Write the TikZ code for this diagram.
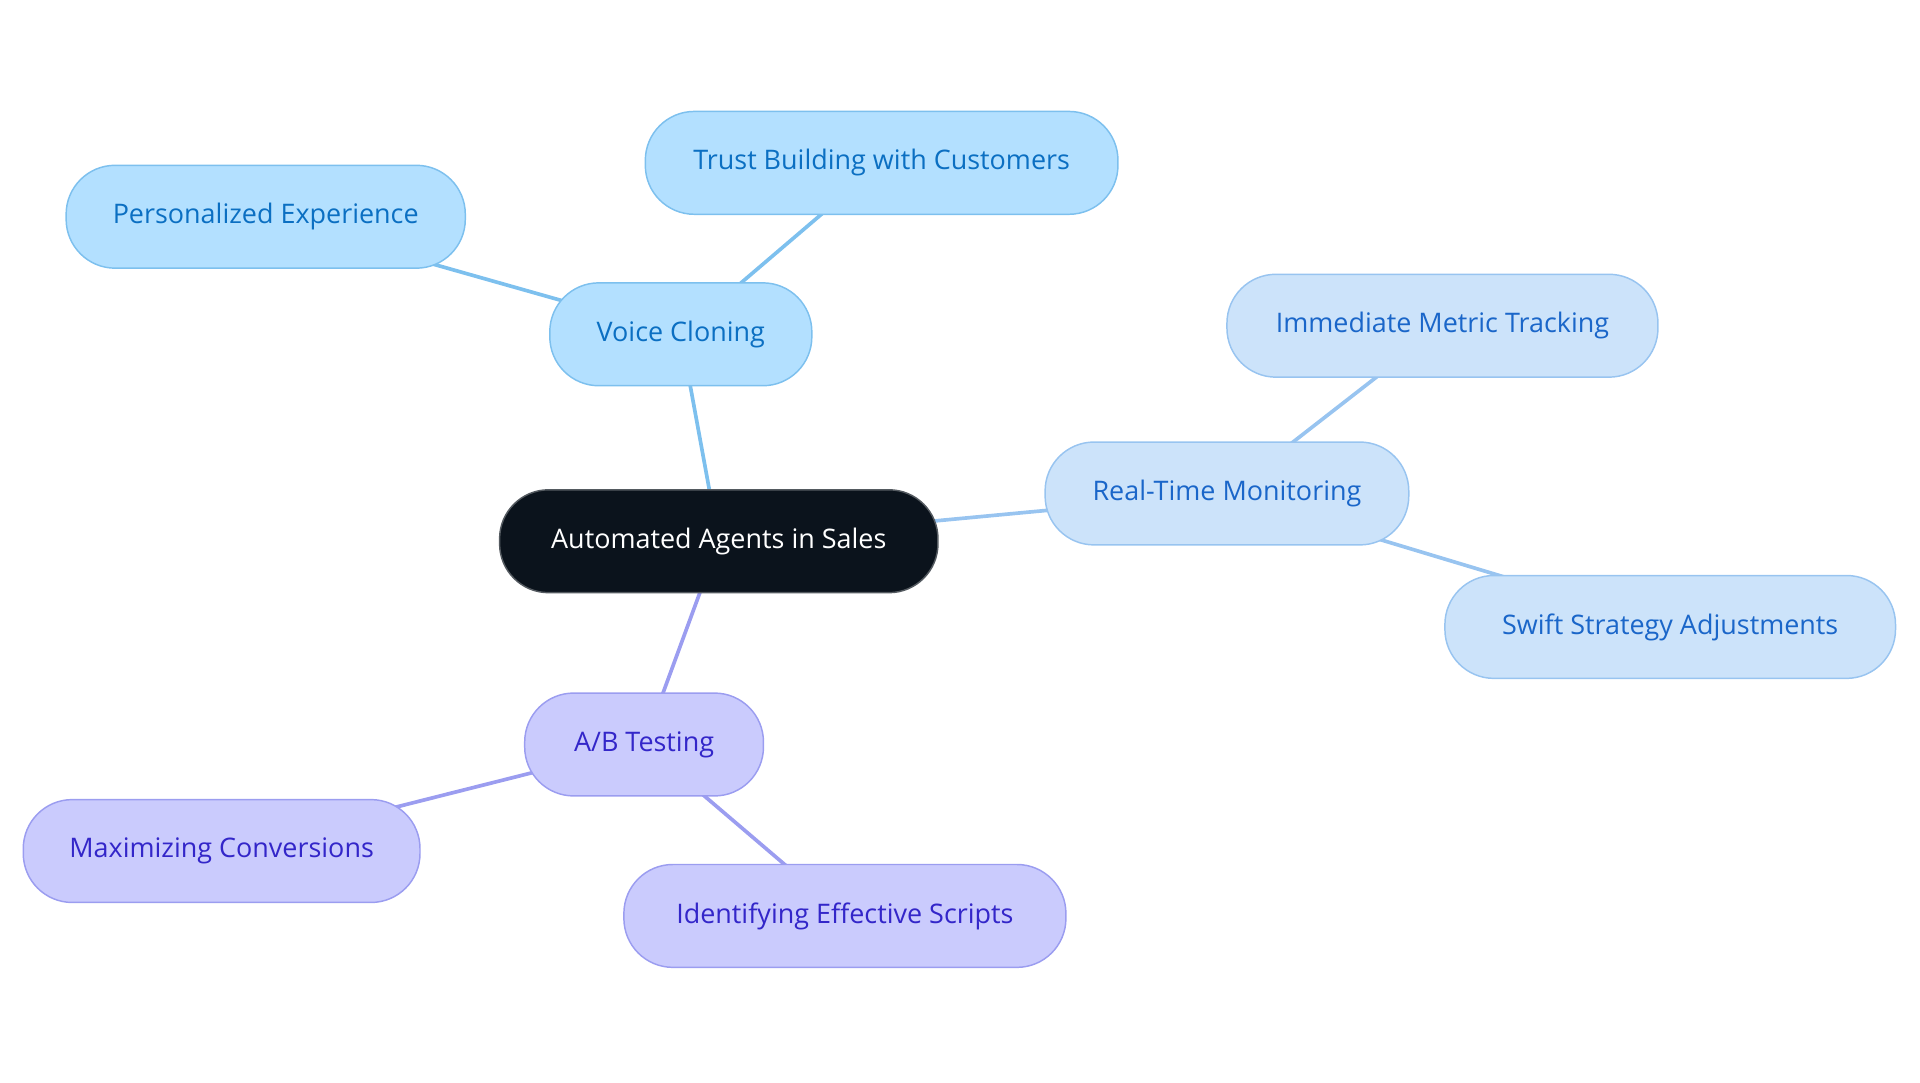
\documentclass[tikz,border=0pt]{standalone}
\usepackage{fontspec}
\setmainfont{Open Sans}
\usetikzlibrary{backgrounds}
\definecolor{bF}{HTML}{B3E0FF}\definecolor{bD}{HTML}{7DC0EE}\definecolor{bT}{HTML}{0B6FC2}
\definecolor{lF}{HTML}{CCE3FA}\definecolor{lD}{HTML}{98C4F0}\definecolor{lT}{HTML}{1A66C9}
\definecolor{pF}{HTML}{CACBFD}\definecolor{pD}{HTML}{9B9DF0}\definecolor{pT}{HTML}{3326C9}
\definecolor{cF}{HTML}{0B131C}
\begin{document}
\begin{tikzpicture}[x=0.5pt,y=-0.5pt,
 nd/.style={rounded corners=20pt,minimum height=42pt,font=\fontsize{11pt}{13pt}\selectfont,line width=0.6pt,inner sep=0pt},
 b/.style={nd,fill=bF,draw=bD,text=bT},
 l/.style={nd,fill=lF,draw=lD,text=lT},
 p/.style={nd,fill=pF,draw=pD,text=pT},
 c/.style={nd,fill=cF,draw=cF!70!white,text=white},
 e/.style={line width=1.5pt}]
\useasboundingbox (0,0) rectangle (1568,884);
\node[c,minimum width=179pt] (c) at (587,442) {Automated Agents in Sales};
\node[b,minimum width=107pt] (v) at (556,273) {Voice Cloning};
\node[b,minimum width=193pt] (t) at (720,133) {Trust Building with Customers};
\node[b,minimum width=163pt] (pe) at (217,177) {Personalized Experience};
\node[l,minimum width=148.5pt] (r) at (1002,403) {Real-Time Monitoring};
\node[l,minimum width=176pt] (i) at (1178,266) {Immediate Metric Tracking};
\node[l,minimum width=184pt] (s) at (1364,512) {Swift Strategy Adjustments};
\node[p,minimum width=97.5pt] (a) at (526,608) {A/B Testing};
\node[p,minimum width=162pt] (m) at (181,695) {Maximizing Conversions};
\node[p,minimum width=180.5pt] (id) at (690,748) {Identifying Effective Scripts};
\begin{scope}[on background layer]
\draw[e,bD] (c.center) -- (v.center) (v.center) -- (t.center) (v.center) -- (pe.center);
\draw[e,lD] (c.center) -- (r.center) (r.center) -- (i.center) (r.center) -- (s.center);
\draw[e,pD] (c.center) -- (a.center) (a.center) -- (m.center) (a.center) -- (id.center);
\end{scope}
\end{tikzpicture}
\end{document}
